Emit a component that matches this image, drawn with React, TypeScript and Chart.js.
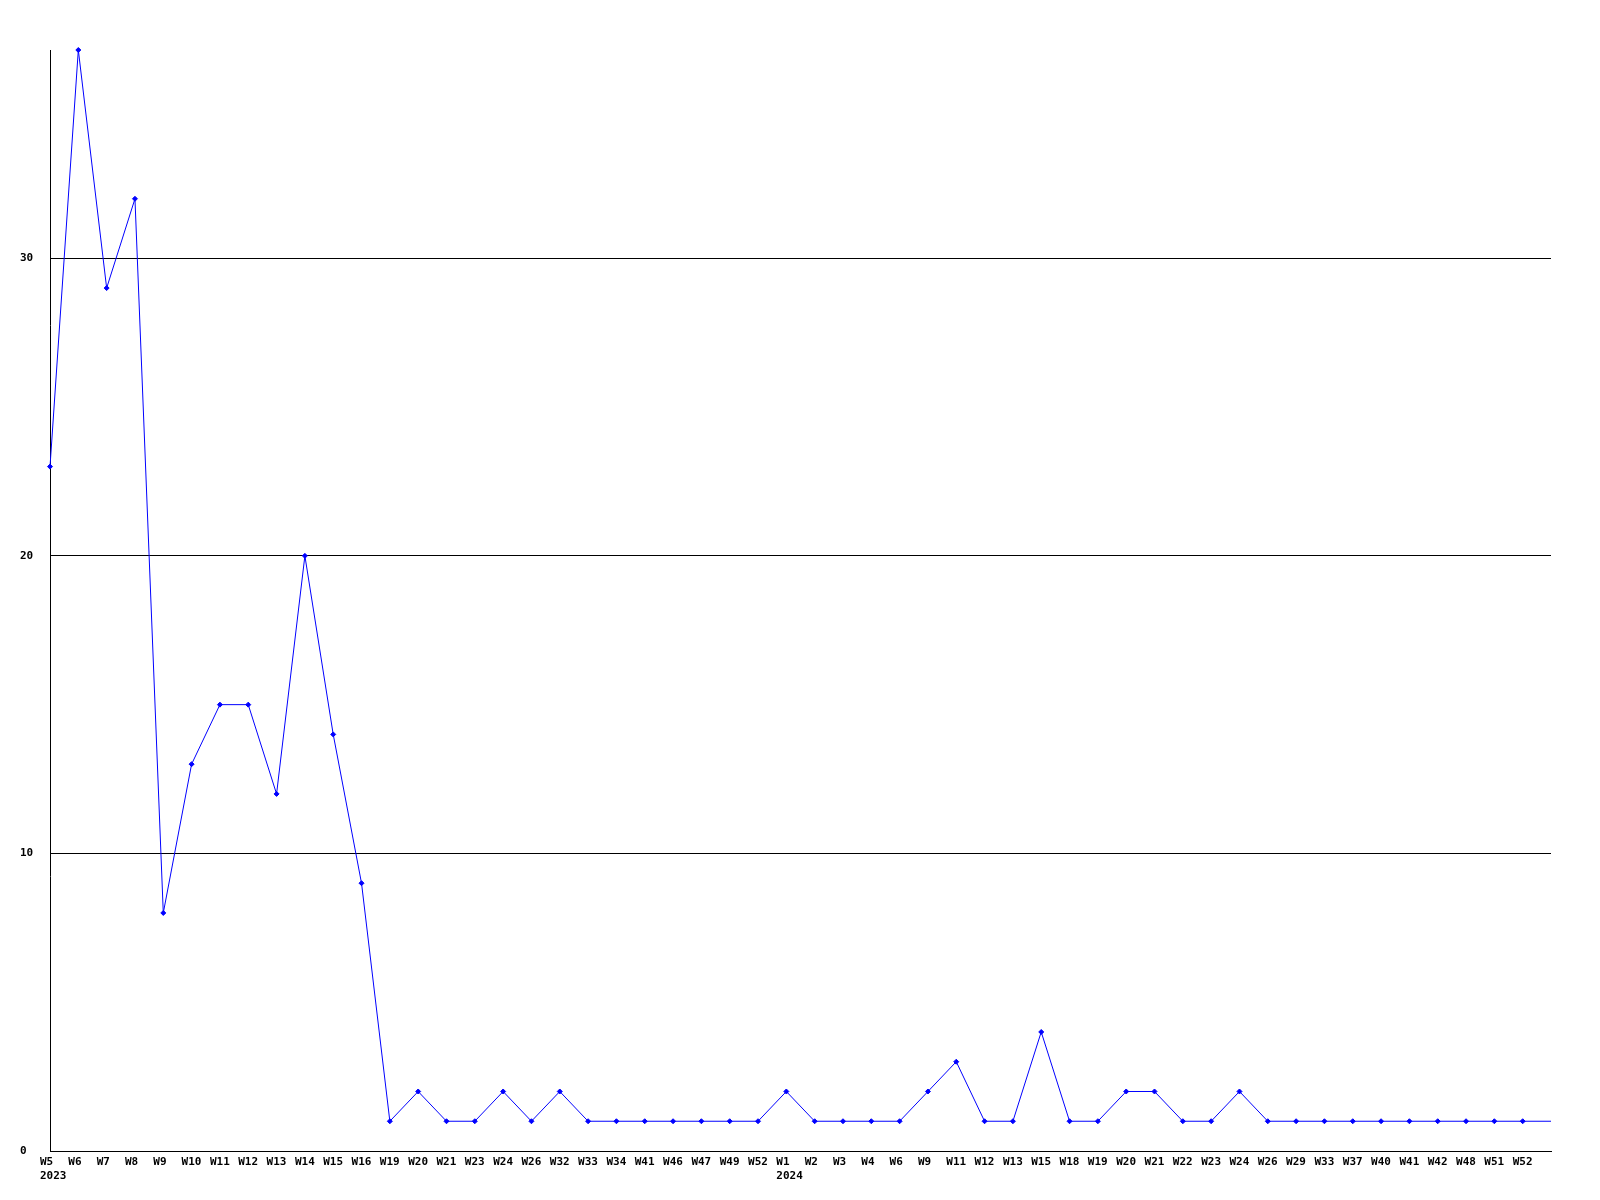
import { useEffect, useRef } from 'react';
import { Chart, registerables } from 'chart.js';

Chart.register(...registerables);

// Week categories (2023 then 2024); the final unlabeled slot is the line's run-out to the right edge
const weeks: string[] = [
  'W5', 'W6', 'W7', 'W8', 'W9', 'W10', 'W11', 'W12', 'W13', 'W14', 'W15', 'W16', 'W19',
  'W20', 'W21', 'W23', 'W24', 'W26', 'W32', 'W33', 'W34', 'W41', 'W46', 'W47', 'W49', 'W52',
  'W1', 'W2', 'W3', 'W4', 'W6', 'W9', 'W11', 'W12', 'W13', 'W15', 'W18', 'W19', 'W20',
  'W21', 'W22', 'W23', 'W24', 'W26', 'W29', 'W33', 'W37', 'W40', 'W41', 'W42', 'W48', 'W51', 'W52',
  '',
];

const yearStartIndex: number[] = [0, 26];
const yearNames: string[] = ['2023', '2024'];

const counts: number[] = [
  23, 37, 29, 32, 8, 13, 15, 15, 12, 20, 14, 9, 1,
  2, 1, 1, 2, 1, 2, 1, 1, 1, 1, 1, 1, 1,
  2, 1, 1, 1, 1, 2, 3, 1, 1, 4, 1, 1, 2,
  2, 1, 1, 2, 1, 1, 1, 1, 1, 1, 1, 1, 1, 1,
  1,
];

const yTicks: number[] = [0, 10, 20, 30];
const yMax = 37;

export default function App() {
  const canvasRef = useRef<HTMLCanvasElement | null>(null);

  useEffect(() => {
    const canvas = canvasRef.current;
    if (!canvas) return;

    const labels = weeks.map((w, i) => {
      const k = yearStartIndex.indexOf(i);
      return k >= 0 ? [w, yearNames[k]] : w;
    });
    const lastIndex = counts.length - 1;

    const font = { family: '"DejaVu Sans Mono", "Liberation Mono", monospace', size: 11, weight: 'bold' as const, lineHeight: 1.3 };

    const chart = new Chart(canvas, {
      type: 'line',
      data: {
        labels,
        datasets: [
          {
            data: counts,
            borderColor: '#0000ff',
            backgroundColor: '#0000ff',
            borderWidth: 1,
            tension: 0,
            pointStyle: 'rectRot',
            pointRadius: (ctx: any) => (ctx.dataIndex === lastIndex ? 0 : 2.5),
            pointBorderWidth: 1,
            pointBorderColor: '#0000ff',
            pointBackgroundColor: '#0000ff',
            clip: false as any,
          },
        ],
      },
      options: {
        responsive: false,
        animation: false,
        devicePixelRatio: 1,
        layout: { padding: { top: 50, right: 49, left: 20, bottom: 0 } },
        plugins: {
          legend: { display: false },
          tooltip: { enabled: false },
          title: { display: false },
        },
        scales: {
          x: {
            type: 'category',
            offset: false,
            grid: { display: false, drawTicks: false },
            border: { display: true, color: '#000000', width: 1 },
            ticks: {
              autoSkip: false,
              maxRotation: 0,
              minRotation: 0,
              align: 'start',
              labelOffset: -10,
              padding: 4,
              color: '#000000',
              font,
            },
            afterFit: (scale: any) => {
              scale.height = 49;
            },
          },
          y: {
            min: 0,
            max: yMax,
            grid: { color: '#000000', lineWidth: 1, drawTicks: false },
            border: { display: true, color: '#000000', width: 1 },
            ticks: {
              crossAlign: 'far',
              padding: 0,
              color: '#000000',
              font,
            },
            afterBuildTicks: (scale: any) => {
              scale.ticks = yTicks.map((v) => ({ value: v }));
            },
            afterFit: (scale: any) => {
              scale.width = 30;
            },
          },
        },
      } as any,
    });

    return () => {
      chart.destroy();
    };
  }, []);

  return (
    <div style={{ position: 'fixed', left: 0, top: 0, width: 1600, height: 1200, background: '#ffffff' }}>
      <canvas ref={canvasRef} width={1600} height={1200} style={{ width: 1600, height: 1200, display: 'block' }} />
    </div>
  );
}
